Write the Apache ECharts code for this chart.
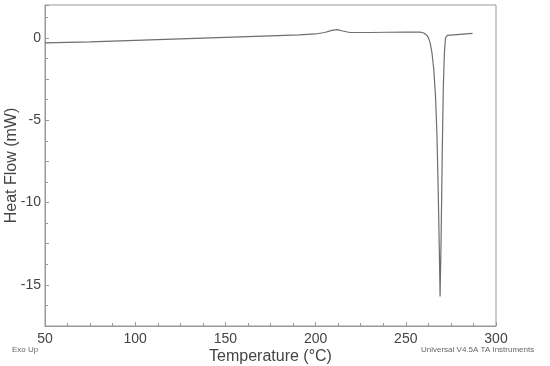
<!DOCTYPE html>
<html lang="en" style="height: 100%">
<head>
    <meta charset="UTF-8">
    <title>DSC Heat Flow</title>
    <script src="https://cdn.jsdelivr.net/npm/echarts@6/dist/echarts.min.js"></script>
</head>
<body style="height: 100%; margin: 0">
<div id="main" style="width: 550px; height: 366px"></div>
<script>
    // temperature (°C) and heat flow (mW)
    var temps = [50, 75, 100, 125, 150, 175, 191, 200, 205, 209, 212, 215, 219, 230, 250, 258,
        260, 261.5, 262.5, 263.5, 264.5, 265.5, 266.5, 267.3, 268, 268.6, 269,
        269.6, 270.2, 270.8, 271.4, 272, 273, 280, 287];
    var heatFlow = [-0.3, -0.24, -0.15, -0.06, 0.03, 0.12, 0.18, 0.24, 0.33, 0.46, 0.5, 0.42, 0.33, 0.33, 0.36, 0.35,
        0.3, 0.18, 0.02, -0.3, -0.9, -1.9, -3.6, -6, -9.5, -13, -15.7,
        -12, -7, -3, -0.9, 0, 0.15, 0.22, 0.28];
    var yTicks = [0, -5, -10, -15];

    var points = temps.map(function (t, i) { return [t, heatFlow[i]]; });
    var font = 'Liberation Sans, Arial, sans-serif';
    var grey = '#999';

    var option = {
        animation: false,
        grid: { left: 45, right: 54, top: 5, bottom: 40, outerBoundsMode: 'none' },
        xAxis: {
            type: 'value', min: 50, max: 300, interval: 50,
            name: 'Temperature (°C)', nameLocation: 'middle', nameGap: 23, nameMoveOverlap: false,
            nameTextStyle: { fontSize: 16, color: '#444', fontFamily: font },
            axisLine: { show: true, onZero: false, lineStyle: { color: grey } },
            axisTick: { inside: true, length: 4, lineStyle: { color: grey } },
            minorTick: { show: true, splitNumber: 4, length: 3, lineStyle: { color: grey } },
            axisLabel: { fontSize: 14, color: '#444', fontFamily: font, margin: 6 },
            splitLine: { show: false }
        },
        yAxis: {
            type: 'value', min: -17.5, max: 2, interval: 2.5,
            name: 'Heat Flow (mW)', nameLocation: 'middle', nameGap: 25, nameMoveOverlap: false,
            nameTextStyle: { fontSize: 16, color: '#444', fontFamily: font },
            axisLine: { show: true, onZero: false, lineStyle: { color: grey } },
            axisTick: { inside: true, length: 4, lineStyle: { color: grey } },
            minorTick: { show: true, splitNumber: 2, length: 3, lineStyle: { color: grey } },
            axisLabel: {
                fontSize: 14, color: '#444', fontFamily: font, margin: 4,
                formatter: function (v) { return yTicks.indexOf(v) >= 0 ? String(v) : ''; }
            },
            splitLine: { show: false }
        },
        graphic: [
            { type: 'rect', shape: { x: 45, y: 5, width: 451, height: 321 },
              style: { fill: 'none', stroke: grey, lineWidth: 1 }, silent: true },
            { type: 'text', left: 12, top: 346,
              style: { text: 'Exo Up', fontSize: 8, fill: '#666', fontFamily: font } },
            { type: 'text', left: 421, top: 346,
              style: { text: 'Universal V4.5A TA Instruments', fontSize: 8, fill: '#666', fontFamily: font } }
        ],
        series: [{
            type: 'line',
            data: points,
            showSymbol: false,
            lineStyle: { color: '#6e6e6e', width: 1.2 }
        }]
    };

    var myChart = echarts.init(document.getElementById('main'));
    myChart.setOption(option);
</script>
</body>
</html>
